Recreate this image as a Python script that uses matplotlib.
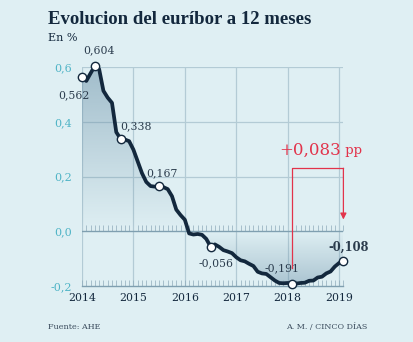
#!/usr/bin/env python3
"""Evolucion del euribor a 12 meses (2014-2019)."""

import numpy as np
import matplotlib
matplotlib.use("Agg")
import matplotlib.pyplot as plt
from matplotlib.colors import to_rgb

# monthly euribor 12m, Jan 2014 .. Feb 2019
START_YEAR = 2014
EURIBOR = [
    0.562, 0.549, 0.577, 0.604, 0.592, 0.513, 0.488, 0.469, 0.362, 0.338, 0.335, 0.329,
    0.298, 0.255, 0.212, 0.180, 0.165, 0.163, 0.167, 0.161, 0.154, 0.128, 0.079, 0.059,
    0.042, -0.008, -0.012, -0.010, -0.013, -0.028, -0.056, -0.048, -0.057, -0.069, -0.074, -0.080,
    -0.095, -0.106, -0.110, -0.119, -0.127, -0.148, -0.154, -0.156, -0.168, -0.180, -0.189, -0.190,
    -0.189, -0.191, -0.191, -0.189, -0.188, -0.181, -0.180, -0.169, -0.166, -0.154, -0.147, -0.129,
    -0.116, -0.108,
]
# highlighted points: (month index, label)
HIGHLIGHTS = [(0, "0,562"), (3, "0,604"), (9, "0,338"), (18, "0,167"),
              (30, "-0,056"), (49, "-0,191"), (61, "-0,108")]
YEARS = [2014, 2015, 2016, 2017, 2018, 2019]
YTICKS = [-0.2, 0.0, 0.2, 0.4, 0.6]
YTICK_LABELS = ["-0,2", "0,0", "0,2", "0,4", "0,6"]
CHANGE_LABEL = "+0,083"

BG = "#dfeff3"
NAVY = "#13283d"
TEAL = "#4fb4c6"
RED = "#e2334b"
GRID = "#b3cbd5"
SERIF = "DejaVu Serif"

x = START_YEAR + np.arange(len(EURIBOR)) / 12.0
y = np.array(EURIBOR)

fig = plt.figure(figsize=(4.14, 3.42), dpi=100, facecolor=BG)
ax = fig.add_axes([82 / 414, 56 / 342, 261.4 / 414, 219 / 342])
ax.set_facecolor(BG)
ax.set_xlim(2014, 2019 + 1 / 12)
ax.set_ylim(-0.2, 0.6)

# gradient fill between line and zero
ny = 300
yy = np.linspace(-0.2, 0.6, ny)
alpha = np.where(yy > 0, 0.48 * yy / 0.6, 0.42 * (-yy) / 0.2)
rgba = np.zeros((ny, 2, 4))
rgba[..., :3] = to_rgb("#5f87a0")
rgba[..., 3] = alpha[:, None]
poly = ax.fill_between(x, y, 0, color="none", lw=0)
im = ax.imshow(rgba, extent=[x[0], x[-1], -0.2, 0.6], origin="lower",
               aspect="auto", zorder=1, interpolation="bilinear")
im.set_clip_path(poly.get_paths()[0], transform=ax.transData)

# grid
for yv in (0.2, 0.4, 0.6):
    ax.axhline(yv, color=GRID, lw=0.9, zorder=0.5)
for xv in YEARS:
    ax.axvline(xv, color=GRID, lw=0.9, zorder=0.5)
ax.axhline(0.0, color="#7f9fb0", lw=1.0, zorder=2)

for s in ("top", "right", "left"):
    ax.spines[s].set_visible(False)
ax.spines["bottom"].set_color("#7f9fb0")
ax.spines["bottom"].set_linewidth(1.0)

ax.set_xticks(YEARS)
ax.set_xticklabels([str(v) for v in YEARS], fontfamily=SERIF, fontsize=7.8, color=NAVY)
ax.set_xticks(START_YEAR + np.arange(1, 62) / 12.0, minor=True)
ax.tick_params(axis="x", which="both", direction="in", length=4.5, width=0.5,
               color="#8fabba", pad=5)
ax.set_yticks(YTICKS)
ax.set_yticklabels(YTICK_LABELS, fontfamily=SERIF, fontsize=8, color=TEAL)
ax.tick_params(axis="y", length=0, pad=7)

# ticks on the zero line
sec = ax.secondary_xaxis(0.2 / 0.8)
sec.spines["bottom"].set_visible(False)
sec.set_xticks(YEARS)
sec.set_xticks(START_YEAR + np.arange(1, 62) / 12.0, minor=True)
sec.tick_params(axis="x", which="both", direction="in", length=4.5, width=0.5,
                color="#8fabba", labelbottom=False)

ax.plot(x, y, color=NAVY, lw=2.7, solid_joinstyle="round", zorder=4, clip_on=False)

offsets = {0: (-6, -13), 3: (3, 11), 9: (11, 9), 18: (2, 9),
           30: (4, -12), 49: (-7, 11), 61: (4, 10)}
for i, label in HIGHLIGHTS:
    ax.plot(x[i], y[i], "o", ms=6, mfc="white", mec=NAVY, mew=1.0, zorder=5, clip_on=False)
    dx, dy = offsets[i]
    bold = i == len(EURIBOR) - 1
    ax.annotate(label, (x[i], y[i]), xytext=(dx, dy), textcoords="offset points",
                ha="center", va="center", fontsize=7.8 if not bold else 8.3,
                fontfamily=SERIF, color="#2a3b4c",
                fontweight="bold" if bold else "normal", zorder=6,
                annotation_clip=False)

# change bracket from the minimum to the last value
i_min, i_last = 49, len(EURIBOR) - 1
top_y = 0.23
ax.plot([x[i_min], x[i_min], x[i_last]], [-0.135, top_y, top_y],
        color=RED, lw=0.9, zorder=3, clip_on=False)
ax.annotate("", xy=(x[i_last], 0.043), xytext=(x[i_last], top_y),
            arrowprops=dict(arrowstyle="-|>", color=RED, lw=0.9,
                            mutation_scale=9, shrinkA=0, shrinkB=0),
            zorder=3, annotation_clip=False)
t = ax.text(x[i_min] - 0.24, top_y + 0.065, CHANGE_LABEL, fontsize=12,
            fontfamily=SERIF, color=RED, va="center", ha="left")
ax.annotate(" pp", xycoords=t, xy=(1, 0.5), va="center", ha="left",
            fontsize=9.5, fontfamily=SERIF, color=RED)

fig.text(48 / 414, 1 - 19 / 342, "Evolucion del euríbor a 12 meses", fontsize=13.5,
         fontfamily="Liberation Serif", fontweight="bold", color=NAVY,
         va="center", ha="left")
fig.text(48 / 414, 1 - 38 / 342, "En %", fontsize=8, fontfamily=SERIF,
         color=NAVY, va="center", ha="left")
fig.text(48 / 414, 1 - 327 / 342, "Fuente: AHE", fontsize=5.8, fontfamily=SERIF,
         color="#3a4b5c", va="center", ha="left")
fig.text(367 / 414, 1 - 327 / 342, "A. M. / CINCO DÍAS", fontsize=5.8,
         fontfamily=SERIF, color="#3a4b5c", va="center", ha="right")

fig.savefig("out.png", dpi=100, facecolor=BG)
